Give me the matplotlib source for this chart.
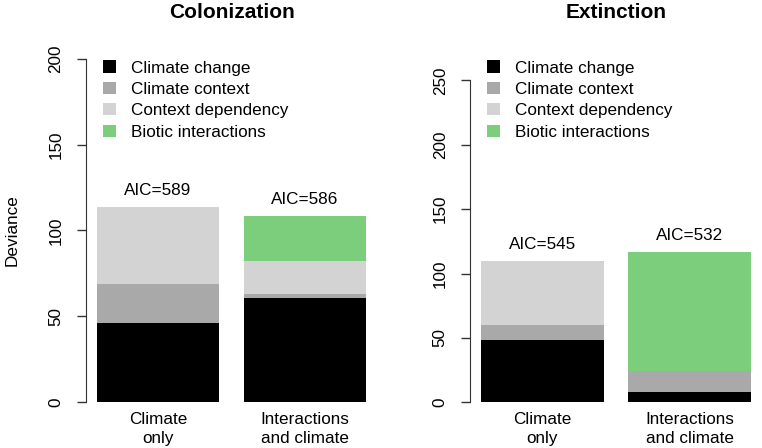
import matplotlib
matplotlib.use("Agg")
import matplotlib.pyplot as plt
from matplotlib.patches import Patch

plt.rcParams['font.family'] = ['Liberation Sans', 'DejaVu Sans']

# deviance components per model (stacked bottom to top)
models = ['Climate\nonly', 'Interactions\nand climate']
components = ['Climate change', 'Climate context', 'Context dependency', 'Biotic interactions']
colors = ['#000000', '#A9A9A9', '#D3D3D3', '#7CCD7C']

col_change = [46, 60.5]
col_context = [23, 2.5]
col_dependency = [44.5, 19.2]
col_biotic = [0, 26.3]
col_aic = [589, 586]

ext_change = [48.4, 7.8]
ext_context = [11.6, 16.2]
ext_dependency = [50, 0]
ext_biotic = [0, 93]
ext_aic = [545, 532]

fs = 12.3

fig = plt.figure(figsize=(7.62, 4.48), dpi=100)
ax1 = fig.add_axes([0.1127, 0.0721, 0.3823, 0.8268])
ax2 = fig.add_axes([0.6171, 0.0721, 0.3827, 0.8268])

xpos = [0.7, 1.9]


def draw_panel(ax, parts, aic, title, ymax, ylim, legx):
    bottoms = [0, 0]
    for vals, c in zip(parts, colors):
        ax.bar(xpos, vals, width=1, bottom=bottoms, color=c, linewidth=0)
        bottoms = [b + v for b, v in zip(bottoms, vals)]
    for x, top, a in zip(xpos, bottoms, aic):
        ax.annotate('AIC=%d' % a, (x, top), xytext=(0, 6.5), textcoords='offset points',
                    ha='center', va='bottom', fontsize=fs)
    ax.set_xlim(0.112, 2.488)
    ax.set_ylim(*ylim)
    ax.set_yticks(range(0, ymax + 1, 50))
    ax.set_xticks(xpos)
    ax.set_xticklabels(models, fontsize=fs, linespacing=1.3)
    ax.tick_params(axis='x', length=0, pad=-2.5)
    ax.tick_params(axis='y', length=6.7, width=1, pad=9.5, color='#333333', labelsize=fs,
                   labelrotation=90)
    for lab in ax.get_yticklabels():
        lab.set_va('center')
    for s in ['top', 'right', 'bottom']:
        ax.spines[s].set_visible(False)
    ax.spines['left'].set_bounds(0, ymax)
    ax.spines['left'].set_color('#333333')
    ax.set_title(title, fontsize=15, fontweight='bold', pad=19.5)
    handles = [Patch(facecolor=c, edgecolor='none') for c in colors]
    ax.legend(handles, components, loc='upper left', frameon=False, fontsize=fs,
              bbox_to_anchor=(legx, 1 - 60.5 / 448), bbox_transform=fig.transFigure,
              borderpad=0, borderaxespad=0, handlelength=0.75, handleheight=0.72,
              handletextpad=0.9, labelspacing=0.37)


draw_panel(ax1, [col_change, col_context, col_dependency, col_biotic], col_aic,
           'Colonization', 200, (-8, 208), 102.7 / 762)
draw_panel(ax2, [ext_change, ext_context, ext_dependency, ext_biotic], ext_aic,
           'Extinction', 250, (-10.4, 277.2), 486.7 / 762)

fig.text(12 / 762, 1 - 230.5 / 448, 'Deviance', rotation=90, ha='center', va='center',
         fontsize=fs)

fig.savefig('out.png', dpi=100)
